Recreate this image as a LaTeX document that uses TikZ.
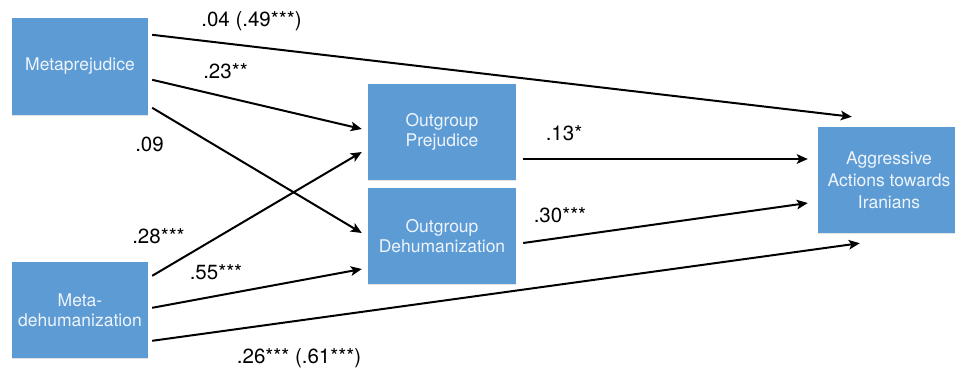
\documentclass[tikz,border=0pt]{standalone}
\usepackage{fontspec}
\setmainfont{TeX Gyre Heros}
\usetikzlibrary{arrows.meta,calc,shadows}
\definecolor{boxblue}{RGB}{93,155,213}
\definecolor{boxtext}{RGB}{238,244,251}
\begin{document}
\begin{tikzpicture}[x=1pt,y=-1pt,
  vbox/.style={draw=none,fill=boxblue,align=center,text=boxtext,inner sep=0pt,
    font=\fontsize{17.5}{20.5}\selectfont,
    drop shadow={opacity=0.22,shadow xshift=0pt,shadow yshift=-1.2pt}},
  conn/.style={line width=2pt,-{Stealth[length=11pt,width=9.5pt,inset=2.5pt]}},
  lbl/.style={anchor=base,inner sep=0pt,font=\fontsize{20.5}{24}\selectfont}]
\useasboundingbox (0,0) rectangle (955,372);
\fill[white] (0,0) rectangle (955,372);
% boxes
\node[vbox,minimum width=136pt,minimum height=97pt] (mp) at (80,66.5) {Metaprejudice};
\node[vbox,minimum width=136pt,minimum height=96pt] (md) at (80,310) {Meta-\\dehumanization};
\node[vbox,minimum width=148pt,minimum height=96pt] (op) at (442,132) {Outgroup\\Prejudice};
\node[vbox,minimum width=148pt,minimum height=96pt] (od) at (442,236) {Outgroup\\Dehumanization};
\node[vbox,minimum width=142pt,minimum height=106pt,font=\fontsize{17.5}{22}\selectfont] (aa) at (889,180)
  {Aggressive\\Actions towards\\Iranians};
% connectors
\draw[conn] ($(mp.north east)+(4,17)$) -- ($(aa.north west)+(34,-10)$);
\draw[conn] ($(mp.north east)+(4,62)$) -- ($(op.west)+(-6,-3)$);
\draw[conn] ($(mp.north east)+(4,90)$) -- ($(od.west)+(-6,-3)$);
\draw[conn] ($(md.north east)+(4,14)$) -- ($(op.west)+(-6,20)$);
\draw[conn] ($(md.north east)+(4,46)$) -- ($(od.west)+(-6,33)$);
\draw[conn] ($(md.north east)+(4,79)$) -- ($(aa.south west)+(42,10)$);
\draw[conn] ($(op.east)+(7,27)$) -- ($(aa.west)+(-10,-21)$);
\draw[conn] ($(od.east)+(7,7)$) -- ($(aa.west)+(-10,23)$);
% labels
\node[lbl] (l1) at (251.5,26) {.04 (.49***)};
\node[lbl] (l2) at (225.5,78) {.23**};
\node[lbl] (l3) at (149.5,151) {.09};
\node[lbl] (l4) at (158.5,243) {.28***};
\node[lbl] (l5) at (216,279) {.55***};
\node[lbl] (l6) at (299,363) {.26*** (.61***)};
\node[lbl] (l7) at (564,140) {.13*};
\node[lbl] (l8) at (560,222) {.30***};
\end{tikzpicture}
\end{document}
